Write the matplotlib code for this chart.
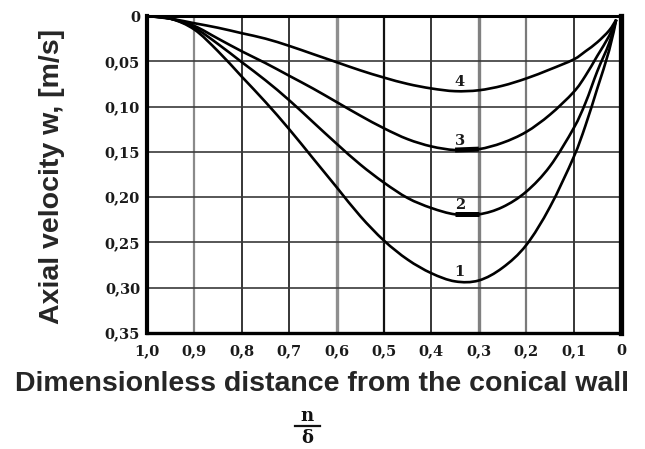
import numpy as np
import matplotlib
matplotlib.use("Agg")
import matplotlib.pyplot as plt
from matplotlib.lines import Line2D
from matplotlib.path import Path
from matplotlib.patches import PathPatch

# ---------------- data ----------------
x = [1.0, 0.95, 0.9, 0.85, 0.8, 0.75, 0.7, 0.65, 0.6, 0.55, 0.5, 0.45,
     0.4, 0.35, 0.3, 0.25, 0.2, 0.15, 0.1, 0.075, 0.05, 0.025, 0.01]
curve1 = [0.0, 0.003, 0.015, 0.039, 0.067, 0.095, 0.125, 0.157, 0.189, 0.221, 0.248, 0.269,
          0.284, 0.293, 0.292, 0.278, 0.253, 0.211, 0.156, 0.121, 0.080, 0.038, 0.004]
curve2 = [0.0, 0.003, 0.013, 0.031, 0.051, 0.071, 0.093, 0.117, 0.141, 0.164, 0.184, 0.201,
          0.212, 0.219, 0.219, 0.211, 0.194, 0.166, 0.124, 0.096, 0.061, 0.030, 0.004]
curve3 = [0.0, 0.003, 0.011, 0.025, 0.039, 0.052, 0.066, 0.080, 0.095, 0.110, 0.124, 0.136,
          0.144, 0.148, 0.147, 0.140, 0.128, 0.109, 0.084, 0.066, 0.044, 0.022, 0.004]
curve4 = [0.0, 0.003, 0.008, 0.013, 0.019, 0.025, 0.033, 0.042, 0.051, 0.060, 0.068, 0.075,
          0.080, 0.083, 0.082, 0.077, 0.069, 0.059, 0.048, 0.039, 0.029, 0.016, 0.004]
curve_labels = ["1", "2", "3", "4"]

x_ticks = [1.0, 0.9, 0.8, 0.7, 0.6, 0.5, 0.4, 0.3, 0.2, 0.1, 0.0]
x_ticklabels = ["1,0", "0,9", "0,8", "0,7", "0,6", "0,5", "0,4", "0,3", "0,2", "0,1", "0"]
y_ticks = [0.0, 0.05, 0.10, 0.15, 0.20, 0.25, 0.30, 0.35]
y_ticklabels = ["0", "0,05", "0,10", "0,15", "0,20", "0,25", "0,30", "0,35"]

y_label = "Axial velocity w, [m/s]"
x_label = "Dimensionless distance from the conical wall"


def smooth_path(xs, ys):
    """Catmull-Rom curve through the points, drawn as cubic Bezier segments."""
    p = np.column_stack([xs, ys])
    n = len(p)
    verts = [p[0]]
    codes = [Path.MOVETO]
    for i in range(n - 1):
        p0 = p[i - 1] if i > 0 else p[i]
        p1, p2 = p[i], p[i + 1]
        p3 = p[i + 2] if i + 2 < n else p[i + 1]
        c1 = p1 + (p2 - p0) / 6.0
        c2 = p2 - (p3 - p1) / 6.0
        verts += [c1, c2, p2]
        codes += [Path.CURVE4] * 3
    return Path(verts, codes)


# ---------------- figure ----------------
W, H = 645, 449
fig = plt.figure(figsize=(W / 100, H / 100), dpi=100)
fig.patch.set_facecolor("white")
ax = fig.add_axes([147 / W, 1 - 333 / H, (621 - 147) / W, (333 - 16) / H])
ax.set_xlim(1.0, 0.0)
ax.set_ylim(0.35, 0.0)

# grid (vertical lines have mixed shades as in the scan)
v_styles = [("#8a8a8a", 1.6), ("#262626", 1.3), ("#262626", 1.3), ("#8f8f8f", 2.4),
            ("#111111", 1.6), ("#262626", 1.3), ("#808080", 2.4), ("#7a7a7a", 1.6),
            ("#262626", 1.3)]
for xv, (c, lw) in zip(x_ticks[1:-1], v_styles):
    ax.axvline(xv, color=c, lw=lw, zorder=1)
for yv in y_ticks[1:-1]:
    ax.axhline(yv, color="#3a3a3a", lw=1.2, zorder=1)

serif = dict(family="DejaVu Serif", weight="bold")
ax.set_xticks(x_ticks)
ax.set_xticklabels(x_ticklabels, fontsize=10.5, color="#1a1a1a", **serif)
ax.set_yticks(y_ticks)
ax.set_yticklabels(y_ticklabels, fontsize=10.5, color="#1a1a1a", **serif)
ax.tick_params(length=0)
ax.tick_params(axis="x", pad=8)
ax.tick_params(axis="y", pad=5)

for side, lw in [("left", 3.0), ("right", 3.8), ("top", 2.2), ("bottom", 2.4)]:
    ax.spines[side].set_linewidth(lw)
    ax.spines[side].set_color("black")

xa = np.array(x)
for ys, lab in zip([curve1, curve2, curve3, curve4], curve_labels):
    ya = np.array(ys)
    ax.add_patch(PathPatch(smooth_path(xa, ya), facecolor="none", edgecolor="black",
                           lw=1.9, joinstyle="round", zorder=3))
    i = int(np.argmax(ya))
    ax.text(xa[i] - 0.01, ya[i] - 0.010, lab, ha="center", va="center",
            fontsize=10.5, color="#1a1a1a", zorder=4, **serif)
    if lab in ("2", "3"):
        m = (xa <= 0.35) & (xa >= 0.3)
        ax.plot(xa[m], ya[m], color="black", lw=3.6, solid_capstyle="butt", zorder=3)

# axis titles
txt_color = "#262626"
fig.text(52 / W, 1 - 176 / H, y_label, rotation=90, ha="center", va="center",
         fontsize=20.5, fontweight="bold", family="Liberation Sans", color=txt_color)
fig.text(322 / W, 1 - 384 / H, x_label, ha="center", va="center",
         fontsize=20.5, fontweight="bold", family="Liberation Sans", color=txt_color)

# fraction n / delta
fig.text(307 / W, 1 - 416 / H, "n", ha="center", va="center", fontsize=13,
         color="#111111", **serif)
fig.text(307 / W, 1 - 438 / H, "δ", ha="center", va="center", fontsize=13,
         color="#111111", **serif)
fig.add_artist(Line2D([295 / W, 320 / W], [1 - 426 / H, 1 - 426 / H],
                      transform=fig.transFigure, color="#111111", lw=1.6))

fig.savefig("out.png", dpi=100)
